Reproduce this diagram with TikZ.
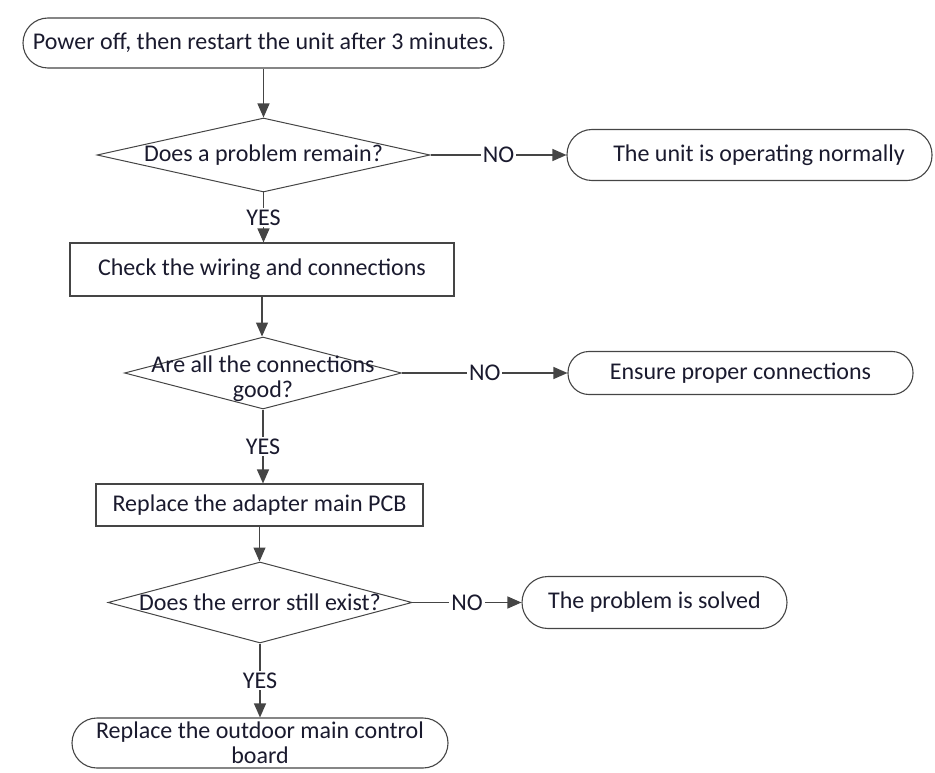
\documentclass[tikz,border=0pt]{standalone}
\usepackage{fontspec}
\setmainfont{Carlito}
\usetikzlibrary{shapes.geometric,arrows.meta}
\definecolor{ln}{HTML}{454545}
\definecolor{tx}{HTML}{1A1A2E}
\begin{document}
\begin{tikzpicture}[x=1pt,y=1pt,
  every node/.style={font=\fontsize{24}{25}\selectfont, text=tx},
  term/.style={rectangle, draw=ln, line width=1.1pt, inner sep=0pt},
  stepbox/.style={rectangle, draw=ln, line width=1.1pt, inner sep=0pt},
  dec/.style={diamond, draw=ln, line width=1pt, inner sep=0pt},
  lbl/.style={fill=white, inner sep=2pt},
  arr/.style={draw=ln, line width=1.2pt, -{Triangle[length=14pt,width=12pt]}}]
\useasboundingbox (0,0) rectangle (935,-773);

\node[term, rounded corners=25pt, minimum width=481pt, minimum height=50pt] (n1) at (263.5,-43) {Power off, then restart the unit after 3 minutes.};
\node[dec, minimum width=333pt, minimum height=74pt] (d1) at (263.5,-155) {};
\node (d1t) at (d1.center) {Does a problem remain?};
\node[term, rounded corners=25pt, minimum width=365pt, minimum height=51pt] (r1) at (749.5,-155) {\hspace*{19pt}The unit is operating normally};
\node[stepbox, minimum width=384pt, minimum height=53pt] (b1) at (262,-269.5) {Check the wiring and connections};
\node[dec, minimum width=277pt, minimum height=72pt] (d2) at (263,-373) {};
\node[align=center] (d2t) at (263,-379) {Are all the connections\\good?};
\node[term, rounded corners=21pt, minimum width=345pt, minimum height=43pt] (r2) at (740.5,-373) {Ensure proper connections};
\node[stepbox, minimum width=327pt, minimum height=42pt] (b2) at (259.5,-505) {Replace the adapter main PCB};
\node[dec, minimum width=304pt, minimum height=81pt] (d3) at (260,-602.5) {};
\node (d3t) at (d3.center) {Does the error still exist?};
\node[term, rounded corners=26pt, minimum width=265pt, minimum height=52pt] (r3) at (654.5,-602.5) {The problem is solved};
\node[term, rounded corners=25pt, minimum width=376pt, minimum height=50pt, align=center] (r4) at (260,-743) {Replace the outdoor main control\\board};

\draw[arr] (n1.south) -- (n1.south |- d1.north);
\draw[arr] (d1.east) -- node[lbl]{NO} (r1.west);
\draw[arr] (d1.south) -- node[lbl]{YES} (d1.south |- b1.north);
\draw[arr] (b1.south) -- (b1.south |- d2.north);
\draw[arr] (d2.east) -- node[lbl]{NO} (r2.west);
\draw[arr] (d2.south) -- node[lbl]{YES} (d2.south |- b2.north);
\draw[arr] (b2.south) -- (b2.south |- d3.north);
\draw[arr] (d3.east) -- node[lbl]{NO} (r3.west);
\draw[arr] (d3.south) -- node[lbl]{YES} (d3.south |- r4.north);
\end{tikzpicture}
\end{document}
